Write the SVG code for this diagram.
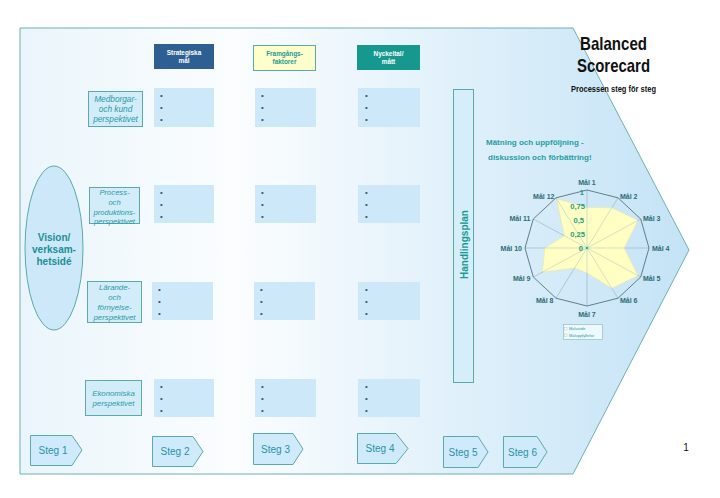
<svg xmlns="http://www.w3.org/2000/svg" width="720" height="498" viewBox="0 0 720 498">
<defs>
<linearGradient id="bg" x1="0" y1="0" x2="1" y2="0">
<stop offset="0" stop-color="#eaf5fb"/>
<stop offset="0.32" stop-color="#fbfdfe"/>
<stop offset="1" stop-color="#c4e3f6"/>
</linearGradient>
<style>
text{font-family:"Liberation Sans",Arial,sans-serif}
.cell{fill:#cde9f9}
.bul{font-size:8px;fill:#445566}
.lab{fill:#d2ecfa;stroke:#5aaaa8;stroke-width:1}
.it{font-style:italic;fill:#2a9aa6;text-anchor:middle}
.steg{fill:#cfeafa;stroke:#5aaaa8;stroke-width:1}
.st{font-size:10px;fill:#2a92a6;text-anchor:middle}
.hd{font-size:6.4px;font-weight:bold;text-anchor:middle}
.ml{font-size:7px;font-weight:bold;fill:#2b6b73}
.sc{font-size:7.6px;font-weight:bold;fill:#22a07c;text-anchor:end}
.ax{stroke:#9fb8c4;stroke-width:0.7}
</style>
</defs>
<rect width="720" height="498" fill="#ffffff"/>
<g id="frame">
<polygon points="20,28 573,28 689,250 573,474 20,474" fill="url(#bg)" stroke="#6fb0b0" stroke-width="1"/>
</g>
<g id="title">
<text x="613.5" y="50" font-size="19" font-weight="bold" text-anchor="middle" textLength="67" lengthAdjust="spacingAndGlyphs" fill="#111">Balanced</text>
<text x="613.5" y="72" font-size="19" font-weight="bold" text-anchor="middle" textLength="73" lengthAdjust="spacingAndGlyphs" fill="#111">Scorecard</text>
<text x="613.5" y="92" font-size="8.5" font-weight="bold" text-anchor="middle" textLength="85" lengthAdjust="spacingAndGlyphs" fill="#111">Processen steg för steg</text>
</g>
<g id="header-strategiska">
<rect x="154" y="44" width="60" height="25" fill="#2d5f93"/>
<text class="hd" x="184" y="55" fill="#ffffff">Strategiska</text>
<text class="hd" x="184" y="63" fill="#ffffff">mål</text>
</g>
<g id="header-framgangs">
<rect x="253.5" y="45.5" width="62" height="25" fill="#ffffcc" stroke="#5aaaa8" stroke-width="1"/>
<text class="hd" x="284.5" y="56" fill="#1a9a94">Framgångs-</text>
<text class="hd" x="284.5" y="64" fill="#1a9a94">faktorer</text>
</g>
<g id="header-nyckeltal">
<rect x="357" y="45" width="63" height="25" fill="#17988f"/>
<text class="hd" x="388.5" y="56" fill="#ffffff">Nyckeltal/</text>
<text class="hd" x="388.5" y="64" fill="#ffffff">mått</text>
</g>
<g id="vision">
<ellipse cx="54" cy="248" rx="29" ry="82" fill="#cde9f9" stroke="#5aaaa8" stroke-width="1"/>
<text x="54" y="241" font-size="10" font-weight="bold" fill="#1a8f94" text-anchor="middle">Vision/</text>
<text x="54" y="253" font-size="10" font-weight="bold" fill="#1a8f94" text-anchor="middle">verksam-</text>
<text x="54" y="265" font-size="10" font-weight="bold" fill="#1a8f94" text-anchor="middle">hetsidé</text>
</g>
<g id="persp-medborgar">
<rect class="lab" x="88.5" y="91.5" width="54" height="35"/>
<text class="it" x="115.5" y="102" font-size="8.3">Medborgar-</text>
<text class="it" x="115.5" y="112" font-size="8.3">och kund</text>
<text class="it" x="115.5" y="122" font-size="8.3">perspektivet</text>
</g>
<g id="persp-process">
<rect class="lab" x="89.5" y="187.5" width="50" height="36"/>
<text class="it" x="114.5" y="194.5" font-size="7.6">Process-</text>
<text class="it" x="114.5" y="204.5" font-size="7.6">och</text>
<text class="it" x="114.5" y="214.5" font-size="7.6">produktions-</text>
<text class="it" x="114.5" y="223.5" font-size="7.6">perspektivet</text>
</g>
<g id="persp-larande">
<rect class="lab" x="87.5" y="281.5" width="54" height="41"/>
<text class="it" x="114.5" y="290" font-size="7.8">Lärande-</text>
<text class="it" x="114.5" y="300" font-size="7.8">och</text>
<text class="it" x="114.5" y="310" font-size="7.8">förnyelse-</text>
<text class="it" x="114.5" y="320" font-size="7.8">perspektivet</text>
</g>
<g id="persp-ekonomiska">
<rect class="lab" x="85.5" y="380.5" width="56" height="35"/>
<text class="it" x="113.5" y="396" font-size="7.8">Ekonomiska</text>
<text class="it" x="113.5" y="406" font-size="7.8">perspektivet</text>
</g>
<g id="cells">
<g id="cell-r1c1"><rect class="cell" x="154" y="88" width="60" height="39"/><text class="bul" x="160" y="98">•</text><text class="bul" x="160" y="110">•</text><text class="bul" x="160" y="122">•</text></g>
<g id="cell-r1c2"><rect class="cell" x="255" y="88" width="61" height="39"/><text class="bul" x="261" y="98">•</text><text class="bul" x="261" y="110">•</text><text class="bul" x="261" y="122">•</text></g>
<g id="cell-r1c3"><rect class="cell" x="358" y="88" width="62" height="39"/><text class="bul" x="365" y="98">•</text><text class="bul" x="365" y="110">•</text><text class="bul" x="365" y="122">•</text></g>
<g id="cell-r2c1"><rect class="cell" x="154" y="185" width="60" height="38"/><text class="bul" x="160" y="195">•</text><text class="bul" x="160" y="207">•</text><text class="bul" x="160" y="219">•</text></g>
<g id="cell-r2c2"><rect class="cell" x="255" y="185" width="61" height="38"/><text class="bul" x="261" y="195">•</text><text class="bul" x="261" y="207">•</text><text class="bul" x="261" y="219">•</text></g>
<g id="cell-r2c3"><rect class="cell" x="358" y="185" width="62" height="38"/><text class="bul" x="365" y="195">•</text><text class="bul" x="365" y="207">•</text><text class="bul" x="365" y="219">•</text></g>
<g id="cell-r3c1"><rect class="cell" x="152" y="282" width="61" height="38"/><text class="bul" x="158" y="292">•</text><text class="bul" x="158" y="304">•</text><text class="bul" x="158" y="316">•</text></g>
<g id="cell-r3c2"><rect class="cell" x="254" y="282" width="61" height="38"/><text class="bul" x="260" y="292">•</text><text class="bul" x="260" y="304">•</text><text class="bul" x="260" y="316">•</text></g>
<g id="cell-r3c3"><rect class="cell" x="358" y="282" width="62" height="38"/><text class="bul" x="365" y="292">•</text><text class="bul" x="365" y="304">•</text><text class="bul" x="365" y="316">•</text></g>
<g id="cell-r4c1"><rect class="cell" x="154" y="379" width="60" height="38"/><text class="bul" x="160" y="389">•</text><text class="bul" x="160" y="401">•</text><text class="bul" x="160" y="413">•</text></g>
<g id="cell-r4c2"><rect class="cell" x="255" y="379" width="61" height="38"/><text class="bul" x="261" y="389">•</text><text class="bul" x="261" y="401">•</text><text class="bul" x="261" y="413">•</text></g>
<g id="cell-r4c3"><rect class="cell" x="358" y="379" width="62" height="38"/><text class="bul" x="365" y="389">•</text><text class="bul" x="365" y="401">•</text><text class="bul" x="365" y="413">•</text></g>
</g>
<g id="handlingsplan">
<rect x="453.5" y="89.5" width="20" height="293" fill="#d6eefa" stroke="#5aaaa8" stroke-width="1"/>
<text transform="translate(468,244.5) rotate(-90)" x="0" y="0" font-size="10" font-weight="bold" fill="#1a9a94" text-anchor="middle">Handlingsplan</text>
</g>
<g id="matning">
<text x="486" y="145" font-size="8" font-weight="bold" fill="#1f9ea0">Mätning och uppföljning -</text>
<text x="488" y="160" font-size="8" font-weight="bold" fill="#1f9ea0">diskussion och förbättring!</text>
</g>
<g id="radar">
<g class="ax">
<line x1="587" y1="248" x2="587" y2="190"/>
<line x1="587" y1="248" x2="618" y2="197.8"/>
<line x1="587" y1="248" x2="640.7" y2="219"/>
<line x1="587" y1="248" x2="649" y2="248"/>
<line x1="587" y1="248" x2="640.7" y2="277"/>
<line x1="587" y1="248" x2="618" y2="298.2"/>
<line x1="587" y1="248" x2="587" y2="306"/>
<line x1="587" y1="248" x2="556" y2="298.2"/>
<line x1="587" y1="248" x2="533.3" y2="277"/>
<line x1="587" y1="248" x2="525" y2="248"/>
<line x1="587" y1="248" x2="533.3" y2="219"/>
<line x1="587" y1="248" x2="556" y2="197.8"/>
</g>
<polygon points="587,207.4 611.8,207.8 638,220.4 624.2,248 638,275.6 611.8,288.2 587,272.9 574.6,268.1 542.4,272.1 544.8,248 564.4,235.8 556.6,198.8" fill="#ffffc4" stroke="#e8e8a0" stroke-width="0.6"/>
<g class="ax" opacity="0.6">
<line x1="587" y1="248" x2="587" y2="207"/>
<line x1="587" y1="248" x2="611.8" y2="207.8"/>
<line x1="587" y1="248" x2="638" y2="220.4"/>
<line x1="587" y1="248" x2="624.2" y2="248"/>
<line x1="587" y1="248" x2="638" y2="275.6"/>
<line x1="587" y1="248" x2="611.8" y2="288.2"/>
<line x1="587" y1="248" x2="587" y2="272.9"/>
<line x1="587" y1="248" x2="574.6" y2="268.1"/>
<line x1="587" y1="248" x2="542.4" y2="272.1"/>
<line x1="587" y1="248" x2="544.8" y2="248"/>
<line x1="587" y1="248" x2="564.4" y2="235.8"/>
<line x1="587" y1="248" x2="556.6" y2="198.8"/>
</g>
<polygon points="587,190 618,197.8 640.7,219 649,248 640.7,277 618,298.2 587,306 556,298.2 533.3,277 525,248 533.3,219 556,197.8" fill="none" stroke="#55707e" stroke-width="0.9"/>
<circle cx="587" cy="248" r="1.3" fill="#3cb878"/>
<text class="sc" x="584" y="194.5">1</text>
<text class="sc" x="585" y="208.5">0,75</text>
<text class="sc" x="584" y="222.5">0,5</text>
<text class="sc" x="585" y="236.5">0,25</text>
<text class="sc" x="583" y="251">0</text>
<text class="ml" x="587" y="184.5" text-anchor="middle">Mål 1</text>
<text class="ml" x="620" y="198.5">Mål 2</text>
<text class="ml" x="643" y="220.5">Mål 3</text>
<text class="ml" x="652" y="250.5">Mål 4</text>
<text class="ml" x="643" y="280.5">Mål 5</text>
<text class="ml" x="620" y="302.5">Mål 6</text>
<text class="ml" x="587" y="316.5" text-anchor="middle">Mål 7</text>
<text class="ml" x="553.5" y="302.5" text-anchor="end">Mål 8</text>
<text class="ml" x="530.5" y="280.5" text-anchor="end">Mål 9</text>
<text class="ml" x="522" y="250.5" text-anchor="end">Mål 10</text>
<text class="ml" x="530.5" y="220.5" text-anchor="end">Mål 11</text>
<text class="ml" x="554.5" y="198.5" text-anchor="end">Mål 12</text>
<g id="legend">
<rect x="563.5" y="324.5" width="39" height="15" fill="#eef8fd" stroke="#7fb8c0" stroke-width="0.6"/>
<rect x="564.5" y="327.5" width="2.5" height="2.5" fill="#ffffff" stroke="#9ab" stroke-width="0.3"/>
<rect x="564.5" y="334" width="2.5" height="2.5" fill="#ffffc4" stroke="#9ab" stroke-width="0.3"/>
<text x="569" y="330.3" font-size="4" fill="#1f9ea0">Målvärde</text>
<text x="569" y="336.8" font-size="4" fill="#1f9ea0">Måluppfyllelse</text>
</g>
</g>
<g id="steg1"><polygon class="steg" points="30.5,435.5 72,435.5 82,450 72,465.5 30.5,465.5"/><text class="st" x="53" y="454">Steg 1</text></g>
<g id="steg2"><polygon class="steg" points="152.5,436.5 193,436.5 203,451.5 193,466.5 152.5,466.5"/><text class="st" x="175" y="455">Steg 2</text></g>
<g id="steg3"><polygon class="steg" points="253.5,433.5 293,433.5 303,449 293,464.5 253.5,464.5"/><text class="st" x="275.5" y="453">Steg 3</text></g>
<g id="steg4"><polygon class="steg" points="357.5,433.5 396,433.5 408,448.5 396,463.5 357.5,463.5"/><text class="st" x="380" y="452">Steg 4</text></g>
<g id="steg5"><polygon class="steg" points="443.5,436.5 478,436.5 488,452 478,467.5 443.5,467.5"/><text class="st" x="463" y="456">Steg 5</text></g>
<g id="steg6"><polygon class="steg" points="503.5,436.5 537,436.5 547,452 537,467.5 503.5,467.5"/><text class="st" x="522.5" y="456">Steg 6</text></g>
<g id="connectors"/>
<text x="686" y="451" font-size="10" fill="#111" text-anchor="middle">1</text>
</svg>
